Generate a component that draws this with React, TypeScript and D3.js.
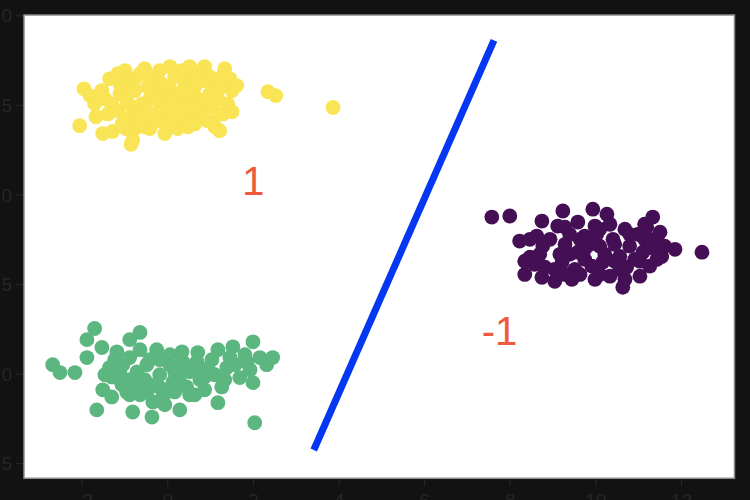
import React from "react";
import * as d3 from "d3";

// class -1 (purple), class 1 (yellow + green)
const yellowPts: [number, number][] = [
  [-1.96, 7.96], [-1.82, 7.77], [-1.71, 7.54], [-2.06, 6.93], [-1.52, 6.71], [-1.29, 6.77],
  [-0.82, 6.52], [-0.86, 6.41], [-1.36, 8.24], [-1.17, 8.38], [-1.0, 8.47], [-1.12, 8.1],
  [-1.31, 7.54], [-1.4, 7.26], [-1.17, 7.35], [-0.95, 7.6], [-0.89, 7.96], [-0.77, 8.24],
  [-0.65, 8.38], [-0.84, 7.46], [-0.93, 7.13], [-0.7, 7.18], [-0.54, 7.41], [-0.42, 7.68],
  [-0.47, 8.02], [-0.3, 8.3], [-0.19, 8.47], [-0.23, 7.91], [-0.07, 7.68], [-0.14, 7.35],
  [-0.3, 7.07], [-0.54, 6.9], [-0.42, 6.85], [0.0, 6.98], [0.09, 7.26], [0.16, 7.54],
  [0.05, 7.96], [0.16, 8.3], [0.33, 8.47], [0.4, 8.1], [0.47, 7.74], [0.56, 7.41],
  [0.4, 7.13], [0.63, 6.98], [0.75, 7.18], [0.7, 7.68], [0.63, 8.02], [0.75, 8.38],
  [0.86, 8.19], [0.98, 7.82], [1.03, 7.46], [0.93, 7.07], [1.1, 6.9], [1.21, 7.26],
  [1.17, 7.68], [1.26, 8.02], [1.33, 8.52], [1.29, 8.33], [1.5, 7.91], [1.61, 8.05],
  [1.5, 7.32], [1.29, 7.26], [1.21, 6.79], [1.4, 7.54], [0.23, 6.85], [-0.07, 6.71],
  [-0.98, 6.85], [-1.54, 7.91], [-1.68, 7.18], [0.28, 7.46], [-0.14, 8.1], [0.51, 8.58],
  [0.86, 8.58], [0.05, 8.58], [-0.54, 8.52], [2.34, 7.88], [2.52, 7.77], [3.86, 7.44],
  [0.4, 7.68], [-0.19, 7.54], [-0.42, 7.26],
  [-1.12, 7.82], [-0.77, 7.91], [-0.61, 7.54], [-0.37, 7.96], [-0.07, 8.02], [0.23, 7.82],
  [0.51, 8.02], [0.86, 7.46], [0.63, 7.35], [0.23, 7.18], [-0.19, 7.07], [-0.65, 7.07],
  [-1.07, 6.98], [-0.77, 6.85], [0.47, 6.9], [1.1, 8.02], [0.51, 8.24], [-0.42, 8.24],
  [-0.93, 8.19], [-1.47, 7.68], [1.45, 8.24], [0.98, 8.3],
];

const greenPts: [number, number][] = [
  [-1.71, 1.27], [-1.89, 0.96], [-1.54, 0.74], [-1.19, 0.62], [-0.89, 0.96], [-0.65, 1.16],
  [-2.69, 0.26], [-2.52, 0.04], [-2.17, 0.04], [-1.89, 0.46], [-1.36, 0.18], [-1.31, -0.08],
  [-1.05, 0.26], [-0.89, 0.46], [-0.72, 0.06], [-0.49, 0.26], [-1.52, -0.44], [-1.31, -0.64],
  [-0.96, -0.5], [-0.72, -0.3], [-0.49, -0.5], [-1.66, -1.0], [-0.82, -1.06], [-0.37, -1.2],
  [-0.35, -0.78], [-1.07, -0.3], [-0.26, 0.68], [0.33, 0.62], [0.7, 0.6], [1.03, 0.4],
  [1.52, 0.76], [1.99, 0.9], [1.45, 0.46], [1.85, 0.32], [2.45, 0.46], [2.31, 0.26],
  [1.99, -0.24], [1.68, -0.1], [1.26, -0.36], [0.86, -0.08], [0.51, 0.06], [0.05, 0.26],
  [-0.19, -0.02], [0.12, -0.22], [0.44, -0.36], [-0.12, -0.66], [1.17, -0.8], [0.28, -1.0],
  [2.03, -1.36], [0.68, 0.34], [0.05, 0.54], [0.35, 0.34], [1.38, 0.18], [-0.54, -0.16],
  [-0.19, -0.38], [0.16, -0.5], [0.63, -0.58], [0.86, -0.44], [1.1, -0.02], [-0.65, -0.58],
  [-0.07, -0.86], [-0.89, -0.16], [-1.12, 0.06], [-0.42, 0.4], [0.4, 0.12], [0.75, -0.16],
  [1.8, 0.54], [1.17, 0.68],
  [-1.24, 0.4], [-0.65, 0.68], [-0.19, 0.4], [0.16, 0.06], [0.63, 0.26], [0.98, 0.06],
  [1.33, -0.16], [1.57, 0.26], [-0.42, -0.3], [-0.89, -0.58], [0.51, -0.58], [1.92, 0.12],
  [2.15, 0.46], [-1.12, -0.16], [-0.07, -0.44], [0.28, -0.22], [0.75, 0.18], [-1.47, -0.02],
];

const purplePts: [number, number][] = [
  [7.57, 4.38], [7.99, 4.41], [8.74, 4.27], [9.23, 4.55], [9.93, 4.6], [8.22, 3.71],
  [8.62, 3.85], [9.11, 4.13], [9.58, 4.24], [8.46, 3.26], [8.76, 3.57], [8.34, 2.78],
  [8.74, 2.7], [9.04, 2.59], [9.44, 2.64], [9.21, 3.12], [9.58, 3.4], [9.74, 3.85],
  [9.98, 4.13], [9.51, 2.92], [9.91, 3.01], [10.26, 4.46], [11.33, 4.38], [11.19, 4.1],
  [10.98, 3.9], [11.5, 3.96], [11.61, 3.57], [11.85, 3.48], [12.48, 3.4], [10.63, 2.42],
  [10.33, 2.73], [11.03, 2.73], [11.26, 3.01], [11.43, 3.2], [11.1, 3.4], [10.79, 3.57],
  [10.4, 3.76], [10.09, 3.57], [10.56, 3.28], [10.16, 3.12], [10.72, 2.98], [10.02, 3.9],
  [9.28, 3.62], [8.57, 3.06], [9.74, 3.2], [10.09, 2.78], [10.44, 3.15], [10.68, 4.04],
  [10.91, 3.2], [11.14, 3.76], [11.5, 3.62], [10.56, 2.92], [9.86, 3.62], [9.39, 3.9],
  [9.04, 2.92], [10.33, 4.18], [9.63, 2.78], [9.16, 3.34], [11.54, 3.28], [11.26, 3.57],
  [8.46, 3.76], [8.93, 3.76], [9.28, 4.1], [9.63, 3.76], [10.09, 4.04], [10.44, 3.62],
  [10.79, 3.9], [11.26, 3.76], [11.38, 3.48], [11.03, 3.15], [10.68, 2.64], [9.98, 2.64],
  [9.28, 2.78], [8.81, 2.98], [8.34, 3.15], [8.69, 3.34], [9.39, 3.34], [10.21, 3.34],
  [9.74, 3.48], [11.14, 4.18],
];

// separating line end points
const sepLine: [number, number][] = [[3.41, -2.12], [7.62, 9.31]];

const classLabels = [
  { text: "1", x: 2.0, y: 5.0 },
  { text: "-1", x: 7.75, y: 0.82 },
];

const xTicks = [-2, 0, 2, 4, 6, 8, 10, 12];
const yTicks = [-2.5, 0, 2.5, 5, 7.5, 10];

const groups = [
  { pts: purplePts, color: "#440f55" },
  { pts: greenPts, color: "#5cb67f" },
  { pts: yellowPts, color: "#f9e455" },
];

const W = 750, H = 500;
const tickColor = "#262626";

export default function App() {
  const x = d3.scaleLinear().domain([-3.36, 13.24]).range([24, 734.5]);
  const y = d3.scaleLinear().domain([-2.91, 10.02]).range([478.3, 15]);
  const line = d3.line<[number, number]>().x(d => x(d[0])).y(d => y(d[1]));
  const fmtY = (v: number) => d3.format(".1f")(v).replace("-", "\u2212");
  const fmtX = (v: number) => String(v).replace("-", "\u2212");

  return (
    <svg width={W} height={H} style={{ position: "absolute", left: 0, top: 0, background: "#121212" }}
      fontFamily="'Liberation Sans', Arial, sans-serif">
      <rect x={0} y={0} width={W} height={H} fill="#121212" />
      <rect x={x(-3.36)} y={y(10.02)} width={x(13.24) - x(-3.36)} height={y(-2.91) - y(10.02)}
        fill="#fff" stroke="#8a8a8a" strokeWidth={1.5} />

      {/* y axis */}
      {yTicks.map(t => (
        <g key={"y" + t}>
          <line x1={16} x2={23} y1={y(t)} y2={y(t)} stroke={tickColor} strokeWidth={1.2} />
          <text x={12} y={y(t)} dy="0.35em" textAnchor="end" fontSize={19} fill={tickColor}>{fmtY(t)}</text>
        </g>
      ))}
      {/* x axis */}
      {xTicks.map(t => (
        <g key={"x" + t}>
          <line x1={x(t)} x2={x(t)} y1={479} y2={486} stroke={tickColor} strokeWidth={1.2} />
          <text x={x(t)} y={507} textAnchor="middle" fontSize={19} fill={tickColor}>{fmtX(t)}</text>
        </g>
      ))}

      {groups.map((g, gi) => (
        <g key={gi} fill={g.color}>
          {g.pts.map((p, i) => <circle key={i} cx={x(p[0])} cy={y(p[1])} r={7.4} />)}
        </g>
      ))}

      <path d={line(sepLine) || ""} stroke="#0437f2" strokeWidth={7} fill="none" />

      {classLabels.map(l => (
        <text key={l.text} x={x(l.x)} y={y(l.y)} textAnchor="middle" fontSize={40} fill="#ef5a3d">{l.text}</text>
      ))}
    </svg>
  );
}
